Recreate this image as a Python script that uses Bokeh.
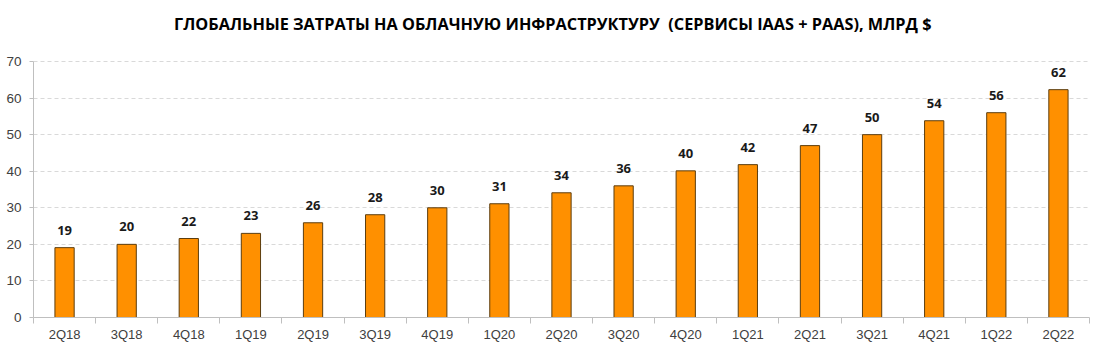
from bokeh.plotting import figure
from bokeh.models import FixedTicker, Range1d, ColumnDataSource, Label
from bokeh.embed import file_html
from bokeh.resources import INLINE
from bokeh.core.properties import value

quarters = ["2Q18", "3Q18", "4Q18", "1Q19", "2Q19", "3Q19", "4Q19", "1Q20", "2Q20",
            "3Q20", "4Q20", "1Q21", "2Q21", "3Q21", "4Q21", "1Q22", "2Q22"]
spend = [19.1, 20.0, 21.6, 23.0, 25.9, 28.1, 30.0, 31.1, 34.1,
         36.0, 40.1, 41.8, 47.0, 50.0, 53.8, 56.0, 62.3]
labels = ["19", "20", "22", "23", "26", "28", "30", "31", "34",
          "36", "40", "42", "47", "50", "54", "56", "62"]
y_ticks = [0, 10, 20, 30, 40, 50, 60, 70]
title_text = "ГЛОБАЛЬНЫЕ ЗАТРАТЫ НА ОБЛАЧНУЮ ИНФРАСТРУКТУРУ \u00a0(СЕРВИСЫ IAAS + PAAS), МЛРД $"

idx = list(range(len(quarters)))
src = ColumnDataSource(dict(x=idx, top=spend, lab=labels))

H = 354
BOTTOM = 37
AXIS_PX = 256  # pixel height of the 0..70 value axis
y_end = y_ticks[-1] * (H - BOTTOM) / AXIS_PX  # frame extends up to hold the title

p = figure(width=1090, height=H, output_backend="svg", toolbar_location=None,
           x_range=Range1d(-0.5, len(quarters) - 0.5), y_range=Range1d(0, y_end),
           min_border_left=33, min_border_right=1, min_border_top=0, min_border_bottom=BOTTOM)
p.outline_line_color = None
p.background_fill_color = "white"
p.border_fill_color = "white"

title = Label(x=7.86, y=80.3, text=title_text, text_align="center", text_baseline="middle",
              text_font="Open Sans", text_font_style="bold", text_font_size="16.3px",
              text_color="#000000")
p.add_layout(title)

p.vbar(x="x", top="top", width=0.31, source=src, fill_color="#FF9000",
       line_color="#5C3D0E", line_width=1)
p.text(x="x", y="top", text="lab", source=src, text_align="center", text_baseline="bottom",
       y_offset=-13, text_font=value("Open Sans"), text_font_style="bold",
       text_font_size="13px", text_color="#1a1a1a")

# x axis
p.xaxis.ticker = FixedTicker(ticks=idx, minor_ticks=[i - 0.5 for i in range(len(quarters) + 1)])
p.xaxis.major_label_overrides = {i: q for i, q in enumerate(quarters)}
p.xaxis.major_tick_line_color = None
p.xaxis.major_tick_out = 0
p.xaxis.minor_tick_line_color = "#bfbfbf"
p.xaxis.minor_tick_out = 6
p.xaxis.minor_tick_in = 0
p.xaxis.axis_line_color = "#bfbfbf"
p.xaxis.major_label_text_font = "Liberation Sans"
p.xaxis.major_label_text_font_size = "13px"
p.xaxis.major_label_text_color = "#404040"
p.xaxis.major_label_standoff = 3

# y axis
p.yaxis.ticker = FixedTicker(ticks=y_ticks)
p.yaxis.bounds = (y_ticks[0], y_ticks[-1])
p.yaxis.minor_tick_line_color = None
p.yaxis.major_tick_line_color = "#bfbfbf"
p.yaxis.major_tick_out = 4
p.yaxis.major_tick_in = 0
p.yaxis.axis_line_color = "#bfbfbf"
p.yaxis.major_label_text_font = "Liberation Sans"
p.yaxis.major_label_text_font_size = "13.5px"
p.yaxis.major_label_text_color = "#404040"
p.yaxis.major_label_standoff = 8

p.xgrid.grid_line_color = None
p.ygrid.grid_line_color = "#d9d9d9"
p.ygrid.grid_line_dash = "4 3"
p.ygrid.grid_line_width = 1

open("out.html", "w").write(file_html(p, INLINE))
